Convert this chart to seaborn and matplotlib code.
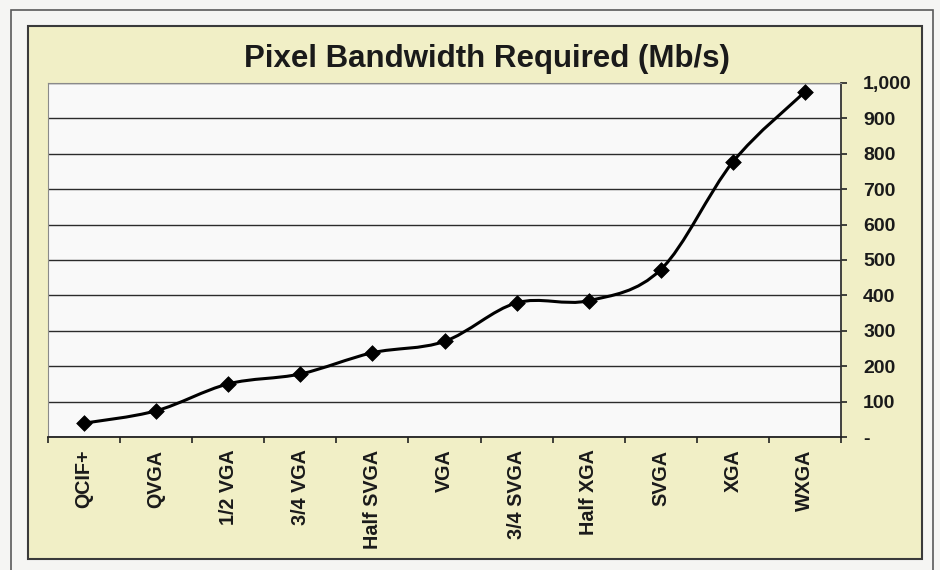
import numpy as np
import pandas as pd
import matplotlib
matplotlib.use("Agg")
import matplotlib.pyplot as plt
from matplotlib.path import Path
from matplotlib.patches import PathPatch, Rectangle
import seaborn as sns

# Display formats and the pixel bandwidth each one needs (Mb/s)
formats = ["QCIF+", "QVGA", "1/2 VGA", "3/4 VGA", "Half SVGA", "VGA",
           "3/4 SVGA", "Half XGA", "SVGA", "XGA", "WXGA"]
bandwidth = [39, 74, 150, 178, 238, 270, 379, 385, 473, 777, 975]

y_ticks = [0, 100, 200, 300, 400, 500, 600, 700, 800, 900, 1000]
y_tick_labels = ["-", "100", "200", "300", "400", "500", "600", "700",
                 "800", "900", "1,000"]
title = "Pixel Bandwidth Required (Mb/s)"

sns.set_theme(style="white")
plt.rcParams["font.family"] = ["Liberation Sans", "DejaVu Sans"]

W, H = 940, 570
fig = plt.figure(figsize=(W / 100, H / 100), dpi=100)
fig.patch.set_facecolor("#f5f5f3")


def fig_rect(x0, y0, x1, y1, **kw):
    """Rectangle given in pixel coordinates measured from the top-left."""
    return Rectangle((x0 / W, 1 - y1 / H), (x1 - x0) / W, (y1 - y0) / H,
                     transform=fig.transFigure, **kw)


# Outer page frame and the pale yellow chart area
fig.patches.append(fig_rect(11, 10, 933, 585, facecolor="none",
                            edgecolor="#5a5a5a", lw=1.2, zorder=0))
fig.patches.append(fig_rect(28, 26, 922, 559, facecolor="#f1efc6",
                            edgecolor="#3a3a3a", lw=1.5, zorder=0))

px0, py0, px1, py1 = 48, 83, 841, 437
ax = fig.add_axes([px0 / W, 1 - py1 / H, (px1 - px0) / W, (py1 - py0) / H])
ax.set_zorder(2)
ax.set_facecolor("#f9f9f9")

df = pd.DataFrame({"pos": np.arange(len(formats)), "format": formats,
                   "bandwidth": bandwidth})

# Smoothed connecting line: cubic Bezier segments through each data point
pts = np.column_stack([df["pos"].to_numpy(float), df["bandwidth"].to_numpy(float)])
n = len(pts)
verts = [tuple(pts[0])]
codes = [Path.MOVETO]
for i in range(n - 1):
    p_prev = pts[max(i - 1, 0)]
    p0, p1 = pts[i], pts[i + 1]
    p_next = pts[min(i + 2, n - 1)]
    c1 = p0 + (p1 - p_prev) / 6.0
    c2 = p1 - (p_next - p0) / 6.0
    verts += [tuple(c1), tuple(c2), tuple(p1)]
    codes += [Path.CURVE4] * 3
ax.add_patch(PathPatch(Path(verts, codes), facecolor="none", edgecolor="black",
                       lw=2.2, zorder=3, capstyle="round", joinstyle="round"))

sns.scatterplot(data=df, x="pos", y="bandwidth", marker="D", s=64,
                color="black", edgecolor="black", linewidth=0.5, zorder=4,
                clip_on=False, ax=ax, legend=False)

ax.set_xlim(-0.5, n - 0.5)
ax.set_ylim(0, 1000)

# Category axis: tick marks between categories, labels centred on them
ax.set_xticks(np.arange(-0.5, n, 1.0))
ax.set_xticklabels([])
ax.set_xticks(np.arange(n), minor=True)
ax.set_xticklabels(formats, minor=True, rotation=90, fontweight="bold",
                   fontsize=14.2, va="top", ha="center", color="#1a1a1a")
ax.tick_params(axis="x", which="major", direction="out", length=4,
               width=1.2, color="#222222", bottom=True)
ax.tick_params(axis="x", which="minor", length=0, pad=9)

# Value axis on the right
ax.yaxis.tick_right()
ax.set_yticks(y_ticks)
ax.set_yticklabels(y_tick_labels, fontweight="bold", fontsize=14,
                   color="#1a1a1a")
ax.tick_params(axis="y", direction="out", length=4, width=1.2,
               color="#222222", right=True, left=False, pad=12)

ax.set_xlabel("")
ax.set_ylabel("")
ax.yaxis.grid(True, color="#2b2b2b", lw=1.0)
ax.xaxis.grid(False)
ax.set_axisbelow(True)

for side, col, lw in [("left", "#8a8a8a", 0.8), ("top", "#8a8a8a", 0.8),
                      ("right", "#333333", 1.3), ("bottom", "#222222", 1.3)]:
    ax.spines[side].set_visible(True)
    ax.spines[side].set_color(col)
    ax.spines[side].set_linewidth(lw)

fig.text(487 / W, 1 - 59 / H, title, ha="center", va="center",
         fontsize=22.5, fontweight="bold", color="#1a1a1a", zorder=3)

fig.savefig("out.png", dpi=100, facecolor=fig.get_facecolor())
